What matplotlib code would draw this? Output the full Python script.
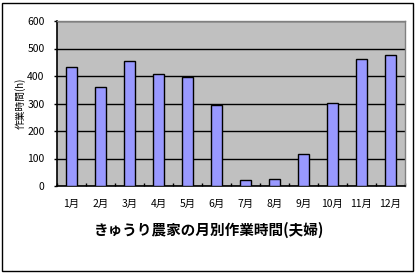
import matplotlib
matplotlib.use('Agg')
import matplotlib.pyplot as plt
from matplotlib.patches import Rectangle
import numpy as np

plt.rcParams['font.family'] = ['Noto Sans CJK JP', 'DejaVu Sans']

months = ['1月', '2月', '3月', '4月', '5月', '6月', '7月', '8月', '9月', '10月', '11月', '12月']
hours = [431, 359, 453, 408, 395, 293, 21, 25, 115, 301, 461, 475]
yticks = [0, 100, 200, 300, 400, 500, 600]

fig = plt.figure(figsize=(4.19, 2.74), dpi=100)
fig.patch.set_facecolor('white')

# outer chart border
fig.patches.append(Rectangle((2 / 419, 3 / 274), 411 / 419, 268 / 274, transform=fig.transFigure,
                             fill=False, edgecolor='black', linewidth=1.0))

ax = fig.add_axes([57 / 419, 1 - 186 / 274, 348 / 419, 165 / 274])
ax.set_facecolor('#c0c0c0')

x = np.arange(len(months))
ax.bar(x, hours, width=0.38, color='#9999ff', edgecolor='black', linewidth=1.0, zorder=3)

ax.set_xlim(-0.5, len(months) - 0.5)
ax.set_ylim(0, 600)
ax.set_yticks(yticks)
ax.set_yticklabels([str(v) for v in yticks], fontsize=7.5)
ax.set_xticks(x)
ax.set_xticklabels(months, fontsize=7.5)
ax.set_xticks(np.arange(len(months) + 1) - 0.5, minor=True)
ax.tick_params(axis='x', which='major', length=0, pad=9)
ax.tick_params(axis='x', which='minor', direction='in', length=2.5, width=1.0)
ax.tick_params(axis='y', direction='out', length=2, width=1.0, pad=7)
ax.grid(axis='y', color='black', linewidth=1.0, zorder=1)

for side in ['top', 'right']:
    ax.spines[side].set_color('#808080')
    ax.spines[side].set_linewidth(1.0)
for side in ['left', 'bottom']:
    ax.spines[side].set_color('black')
    ax.spines[side].set_linewidth(1.2)

ax.set_ylabel('作業時間(h)', fontsize=7)
ax.yaxis.set_label_coords(-0.089, 0.5)

fig.text(0.5, 1 - 230 / 274, 'きゅうり農家の月別作業時間(夫婦)', ha='center', va='center',
         fontsize=10.5, fontweight='bold')

fig.savefig('out.png', dpi=100, facecolor='white')
